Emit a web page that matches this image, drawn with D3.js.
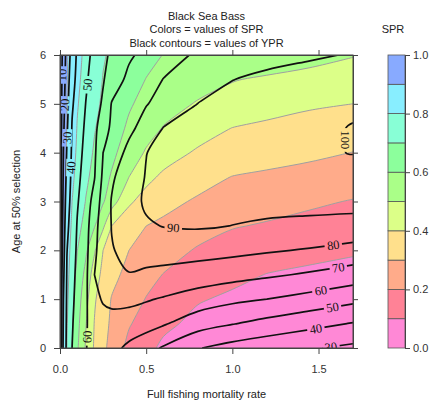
<!DOCTYPE html>
<html>
<head>
<meta charset="utf-8">
<script src="https://cdn.jsdelivr.net/npm/d3@7"></script>
<style>
  body { margin: 0; background: #fff; }
  text { font-family: "Liberation Sans", Arial, sans-serif; }
</style>
</head>
<body>
<div id="chart"></div>
<script>
var svgWidth = 434;
var svgHeight = 402;

// plot box (R filled.contour layout)
var box = { left: 60, right: 353, top: 55, bottom: 348 };

// grid of fishing mortality (columns) and age at 50% selection (rows)
var fGrid = [0, 0.01, 0.02, 0.04, 0.07, 0.1, 0.15, 0.2, 0.25, 0.3, 0.4, 0.5, 0.6, 0.8, 1.0, 1.2, 1.45, 1.7];
var ageGrid = [0, 0.5, 1, 1.5, 2, 2.5, 3, 3.5, 4, 4.5, 5, 5.5, 6];

// SPR (one row per age)
var sprRows = [
  [1, .941, .887, .800, .700, .614, .489, .388, .325, .263, .174, .121, .085, .060, .045, .035, .027, .021],
  [1, .944, .892, .808, .713, .632, .505, .396, .335, .283, .208, .161, .117, .080, .062, .050, .040, .033],
  [1, .947, .896, .819, .729, .652, .532, .412, .347, .295, .244, .196, .166, .106, .088, .078, .068, .060],
  [1, .952, .905, .832, .748, .677, .570, .450, .373, .327, .272, .232, .197, .163, .118, .098, .088, .080],
  [1, .957, .913, .845, .766, .702, .617, .511, .400, .367, .300, .271, .243, .190, .155, .135, .118, .107],
  [1, .962, .923, .860, .785, .734, .665, .606, .518, .400, .350, .300, .281, .244, .207, .190, .172, .157],
  [1, .966, .931, .873, .800, .760, .696, .652, .609, .543, .413, .367, .330, .287, .265, .243, .215, .195],
  [1, .969, .938, .883, .817, .775, .717, .672, .632, .591, .500, .423, .384, .339, .297, .280, .262, .247],
  [1, .971, .943, .890, .833, .787, .736, .690, .655, .621, .553, .490, .440, .388, .368, .348, .323, .298],
  [1, .974, .947, .897, .845, .796, .750, .705, .673, .642, .586, .538, .495, .441, .398, .385, .372, .360],
  [1, .976, .951, .902, .854, .806, .762, .721, .687, .662, .610, .573, .540, .492, .471, .430, .410, .400],
  [1, .977, .953, .904, .861, .817, .771, .733, .697, .677, .636, .598, .579, .541, .504, .490, .475, .462],
  [1, .978, .956, .907, .867, .827, .779, .743, .707, .688, .656, .625, .598, .582, .565, .548, .527, .504]
];

// YPR (one row per age)
var yprRows = [
  [0, 22.2, 32.3, 42.5, 50.0, 53.6, 59.6, 63.5, 65.0, 63.0, 57.8, 53.4, 49.0, 40.5, 36.5, 33.5, 30.8, 28.0],
  [0, 21.0, 31.3, 42.0, 49.3, 53.2, 59.2, 63.8, 66.0, 67.0, 66.0, 64.0, 61.0, 54.5, 50.5, 47.0, 43.0, 39.5],
  [0, 20.0, 30.0, 41.4, 48.3, 52.7, 58.6, 67.2, 71.0, 72.0, 72.0, 70.8, 69.2, 65.5, 62.2, 60.0, 56.5, 52.5],
  [0, 18.6, 28.3, 40.7, 47.3, 52.1, 57.9, 70.0, 74.5, 77.5, 79.7, 78.5, 77.5, 75.5, 73.5, 71.5, 68.8, 65.5],
  [0, 16.9, 26.3, 39.7, 46.1, 51.3, 57.1, 68.4, 74.5, 79.5, 82.3, 83.6, 84.0, 83.6, 82.5, 81.0, 79.2, 76.7],
  [0, 15.5, 24.6, 37.5, 45.0, 50.5, 56.2, 67.0, 74.7, 80.3, 84.2, 88.8, 90.3, 91.0, 89.9, 88.8, 87.8, 86.9],
  [0, 14.2, 23.0, 35.2, 43.8, 49.2, 55.2, 63.5, 74.3, 80.5, 86.0, 91.5, 92.0, 92.3, 92.6, 92.8, 93.0, 93.0],
  [0, 13.0, 21.5, 32.9, 42.7, 47.7, 54.0, 59.6, 72.0, 78.7, 85.3, 90.5, 92.7, 93.5, 94.5, 95.5, 96.5, 97.5],
  [0, 11.9, 20.2, 30.8, 41.6, 46.3, 52.8, 58.3, 70.0, 74.3, 82.7, 89.8, 92.7, 94.0, 95.8, 97.5, 99.0, 100.2],
  [0, 11.0, 18.4, 28.6, 40.6, 44.9, 51.6, 57.7, 65.4, 71.9, 77.7, 84.0, 90.3, 93.3, 95.5, 97.3, 99.0, 100.2],
  [0, 10.1, 16.9, 26.6, 38.9, 43.6, 50.2, 55.5, 61.5, 70.5, 75.0, 79.5, 83.2, 90.1, 93.2, 95.7, 97.8, 99.3],
  [0, 9.3, 15.6, 25.0, 36.4, 42.5, 48.7, 54.1, 59.2, 64.9, 72.2, 76.2, 80.2, 85.7, 89.8, 92.4, 94.5, 96.0],
  [0, 8.3, 14.4, 23.6, 34.1, 41.5, 47.2, 52.7, 57.7, 61.8, 68.6, 72.7, 76.1, 81.3, 84.0, 86.3, 88.6, 90.7]
];

var sprLevels = [0, 0.1, 0.2, 0.3, 0.4, 0.5, 0.6, 0.7, 0.8, 0.9, 1.0];
var sprColors = ["#ff88d6", "#ff8296", "#ffab8a", "#ffe08c", "#dcff88",
                 "#aaff88", "#8cff9c", "#88ffd6", "#88eeff", "#88aaff"];
var yprLevels = [10, 20, 30, 40, 50, 60, 70, 80, 90, 100];

// contour labels: level and approximate spot
var labelLevels = [10, 20, 30, 40, 50, 60, 90, 100, 80, 70, 60, 50, 40, 30];
var labelF =      [0.012, 0.029, 0.058, 0.076, 0.163, 0.157, 0.657, 1.686, 1.587, 1.616, 1.512, 1.58, 1.483, 1.57];
var labelAge =    [5.59, 4.98, 4.30, 3.69, 5.39, 0.23, 2.44, 4.26, 2.07, 1.62, 1.21, 0.86, 0.43, 0.08];

var xTicks = [0, 0.5, 1.0, 1.5];
var yTicks = [0, 1, 2, 3, 4, 5, 6];
var legendTicks = [0, 0.2, 0.4, 0.6, 0.8, 1.0];

var svg = d3.select("#chart")
  .append("svg")
  .attr("width", svgWidth)
  .attr("height", svgHeight);

var x = d3.scaleLinear().domain([0, 1.7]).range([box.left, box.right]);
var y = d3.scaleLinear().domain([0, 6]).range([box.bottom, box.top]);

// grid index -> data value (uneven grid)
var nF = fGrid.length, nA = ageGrid.length;
var indexToF = d3.scaleLinear().domain(d3.range(nF)).range(fGrid);
var indexToAge = d3.scaleLinear().domain(d3.range(nA)).range(ageGrid);

function toIndex(p) {
  return [Math.max(0, Math.min(nF - 1, p[0] - 0.5)),
          Math.max(0, Math.min(nA - 1, p[1] - 0.5))];
}
function toPixel(q) {
  return [x(indexToF(q[0])), y(indexToAge(q[1]))];
}

var eps = 1e-6;
function onFrame(a, b) {
  return (a[0] <= eps && b[0] <= eps) || (a[0] >= nF - 1 - eps && b[0] >= nF - 1 - eps) ||
         (a[1] <= eps && b[1] <= eps) || (a[1] >= nA - 1 - eps && b[1] >= nA - 1 - eps);
}

// split a contour ring into runs: along the frame, or a real iso line
function ringRuns(ring) {
  var pts = ring.map(toIndex);
  var n = pts.length - 1, start = -1;
  for (var i = 0; i < n; i++) {
    if (onFrame(pts[i], pts[i + 1])) { start = i; break; }
  }
  if (start < 0) return [{ frame: false, closed: true, pts: pts.slice(0, n).map(toPixel) }];
  var seq = pts.slice(start, n).concat(pts.slice(0, start + 1));
  var runs = [], cur = null;
  for (var j = 1; j < seq.length; j++) {
    var f = onFrame(seq[j - 1], seq[j]);
    if (!cur || cur.frame !== f) { cur = { frame: f, closed: false, pts: [seq[j - 1]] }; runs.push(cur); }
    cur.pts.push(seq[j]);
  }
  runs.forEach(function(r) { r.pts = r.pts.map(toPixel); });
  return runs;
}

var smoothLine = d3.line().curve(d3.curveCatmullRom.alpha(0.5));
var smoothRing = d3.line().curve(d3.curveCatmullRomClosed.alpha(0.5));
var straight = d3.line();

function runPath(r) {
  if (r.closed) return smoothRing(r.pts);
  return r.frame ? straight(r.pts) : smoothLine(r.pts);
}

function fillPath(geom) {
  var s = "";
  geom.coordinates.forEach(function(poly) {
    poly.forEach(function(ring) {
      ringRuns(ring).forEach(function(r, k) {
        var p = runPath(r);
        s += k ? "L" + p.slice(1) : p;
      });
      s += "Z";
    });
  });
  return s;
}

function isoLines(geom) {
  var out = [];
  geom.coordinates.forEach(function(poly) {
    poly.forEach(function(ring) {
      ringRuns(ring).forEach(function(r) { if (!r.frame) out.push(r); });
    });
  });
  return out;
}

// clip
svg.append("clipPath").attr("id", "plotclip")
  .append("rect")
  .attr("x", box.left).attr("y", box.top)
  .attr("width", box.right - box.left).attr("height", box.bottom - box.top);

var plot = svg.append("g").attr("clip-path", "url(#plotclip)");

// SPR filled bands
var sprValues = [].concat.apply([], sprRows);
var sprContours = d3.contours()
  .size([nF, nA])
  .thresholds(sprLevels.slice(1, -1))(sprValues);

plot.append("rect")
  .attr("x", box.left).attr("y", box.top)
  .attr("width", box.right - box.left).attr("height", box.bottom - box.top)
  .attr("fill", sprColors[0]);

plot.selectAll("path.band")
  .data(sprContours)
  .enter().append("path")
  .attr("class", "band")
  .attr("d", fillPath)
  .attr("fill", function(d, i) { return sprColors[i + 1]; })
  .attr("fill-rule", "evenodd");

// thin grey borders between bands
sprContours.forEach(function(c) {
  isoLines(c).forEach(function(r) {
    plot.append("path")
      .attr("d", runPath(r))
      .attr("fill", "none")
      .attr("stroke", "#a0a0a0")
      .attr("stroke-width", 1);
  });
});

// YPR contours
var yprValues = [].concat.apply([], yprRows);
var yprContours = d3.contours()
  .size([nF, nA])
  .thresholds(yprLevels)(yprValues);

var yprLines = {};
yprContours.forEach(function(c) { yprLines[c.value] = isoLines(c); });

var mask = svg.append("mask").attr("id", "labelmask")
  .attr("maskUnits", "userSpaceOnUse")
  .attr("x", 0).attr("y", 0).attr("width", svgWidth).attr("height", svgHeight);
mask.append("rect").attr("width", svgWidth).attr("height", svgHeight).attr("fill", "#fff");

var yprGroup = plot.append("g").attr("mask", "url(#labelmask)");
yprContours.forEach(function(c) {
  yprLines[c.value].forEach(function(r) {
    yprGroup.append("path")
      .attr("d", runPath(r))
      .attr("fill", "none")
      .attr("stroke", "#111")
      .attr("stroke-width", 1.7)
      .attr("stroke-linejoin", "round");
  });
});

// contour labels on the lines
var labelGroup = plot.append("g");
labelLevels.forEach(function(lv, k) {
  var tx = x(labelF[k]), ty = y(labelAge[k]);
  var best = null;
  (yprLines[lv] || []).forEach(function(r) {
    var pts = r.closed ? r.pts.concat([r.pts[0]]) : r.pts;
    for (var i = 1; i < pts.length; i++) {
      var a = pts[i - 1], b = pts[i];
      var dx = b[0] - a[0], dy = b[1] - a[1], L2 = dx * dx + dy * dy;
      var t = L2 ? ((tx - a[0]) * dx + (ty - a[1]) * dy) / L2 : 0;
      t = Math.max(0, Math.min(1, t));
      var px = a[0] + t * dx, py = a[1] + t * dy;
      var d = (px - tx) * (px - tx) + (py - ty) * (py - ty);
      if (!best || d < best.d) best = { d: d, x: px, y: py, ang: Math.atan2(dy, dx) * 180 / Math.PI };
    }
  });
  if (!best) best = { x: tx, y: ty, ang: 0 };
  var ang = best.ang;
  while (ang > 90) ang -= 180;
  while (ang <= -90) ang += 180;

  var t = labelGroup.append("text")
    .attr("transform", "translate(" + best.x + "," + best.y + ") rotate(" + ang + ")")
    .attr("text-anchor", "middle")
    .attr("dy", "0.35em")
    .style("font-family", "'Liberation Serif', 'DejaVu Serif', serif")
    .style("font-size", "12.5px")
    .attr("fill", "#111")
    .text(lv);
  var w = t.node().getComputedTextLength() + 5;
  mask.append("rect")
    .attr("transform", "translate(" + best.x + "," + best.y + ") rotate(" + ang + ")")
    .attr("x", -w / 2).attr("y", -5)
    .attr("width", w).attr("height", 10)
    .attr("fill", "#000");
});

// frame
svg.append("rect")
  .attr("x", box.left).attr("y", box.top)
  .attr("width", box.right - box.left).attr("height", box.bottom - box.top)
  .attr("fill", "none")
  .attr("stroke", "#444")
  .attr("stroke-width", 1);

// axes
function styleAxis(g) {
  g.select(".domain").attr("stroke", "#444");
  g.selectAll(".tick line").attr("stroke", "#444");
  g.selectAll("text")
    .attr("fill", "#333")
    .style("font-family", "'Liberation Sans', Arial, sans-serif")
    .style("font-size", "11px");
}

svg.append("g")
  .attr("transform", "translate(0," + box.bottom + ")")
  .call(d3.axisBottom(x).tickValues(xTicks).tickFormat(d3.format(".1f")).tickSize(6).tickSizeOuter(0).tickPadding(11))
  .call(styleAxis);

svg.append("g")
  .attr("transform", "translate(" + box.left + ",0)")
  .call(d3.axisLeft(y).tickValues(yTicks).tickFormat(d3.format("d")).tickSize(6).tickSizeOuter(0).tickPadding(8))
  .call(styleAxis);

svg.append("g")
  .attr("transform", "translate(0," + box.top + ")")
  .call(d3.axisTop(x).tickValues(xTicks).tickFormat("").tickSize(5).tickSizeOuter(0))
  .call(styleAxis);

svg.append("g")
  .attr("transform", "translate(" + box.right + ",0)")
  .call(d3.axisRight(y).tickValues(yTicks).tickFormat("").tickSize(5).tickSizeOuter(0))
  .call(styleAxis);

// colour key
var legend = { left: 388, right: 405 };
var yL = d3.scaleLinear().domain([0, 1]).range([box.bottom, box.top]);

svg.selectAll("rect.key")
  .data(sprColors)
  .enter().append("rect")
  .attr("class", "key")
  .attr("x", legend.left)
  .attr("y", function(d, i) { return yL(sprLevels[i + 1]); })
  .attr("width", legend.right - legend.left)
  .attr("height", function(d, i) { return yL(sprLevels[i]) - yL(sprLevels[i + 1]); })
  .attr("fill", function(d) { return d; })
  .attr("stroke", "#555")
  .attr("stroke-width", 0.8);

svg.append("g")
  .attr("transform", "translate(" + legend.right + ",0)")
  .call(d3.axisRight(yL).tickValues(legendTicks).tickFormat(d3.format(".1f")).tickSize(5).tickSizeOuter(0).tickPadding(3))
  .call(styleAxis);

// titles
var titles = ["Black Sea Bass", "Colors = values of SPR", "Black contours = values of YPR"];
svg.selectAll("text.title")
  .data(titles)
  .enter().append("text")
  .attr("class", "title")
  .attr("x", (box.left + box.right) / 2)
  .attr("y", function(d, i) { return 20 + i * 13.3; })
  .attr("text-anchor", "middle")
  .style("font-size", "11px")
  .attr("fill", "#222")
  .text(function(d) { return d; });

svg.append("text")
  .attr("x", 393).attr("y", 33)
  .attr("text-anchor", "middle")
  .style("font-size", "11px")
  .attr("fill", "#222")
  .text("SPR");

svg.append("text")
  .attr("x", (box.left + box.right) / 2).attr("y", 398)
  .attr("text-anchor", "middle")
  .style("font-size", "11px")
  .attr("fill", "#222")
  .text("Full fishing mortality rate");

svg.append("text")
  .attr("transform", "translate(20," + ((box.top + box.bottom) / 2) + ") rotate(-90)")
  .attr("text-anchor", "middle")
  .style("font-size", "11px")
  .attr("fill", "#222")
  .text("Age at 50% selection");
</script>
</body>
</html>
